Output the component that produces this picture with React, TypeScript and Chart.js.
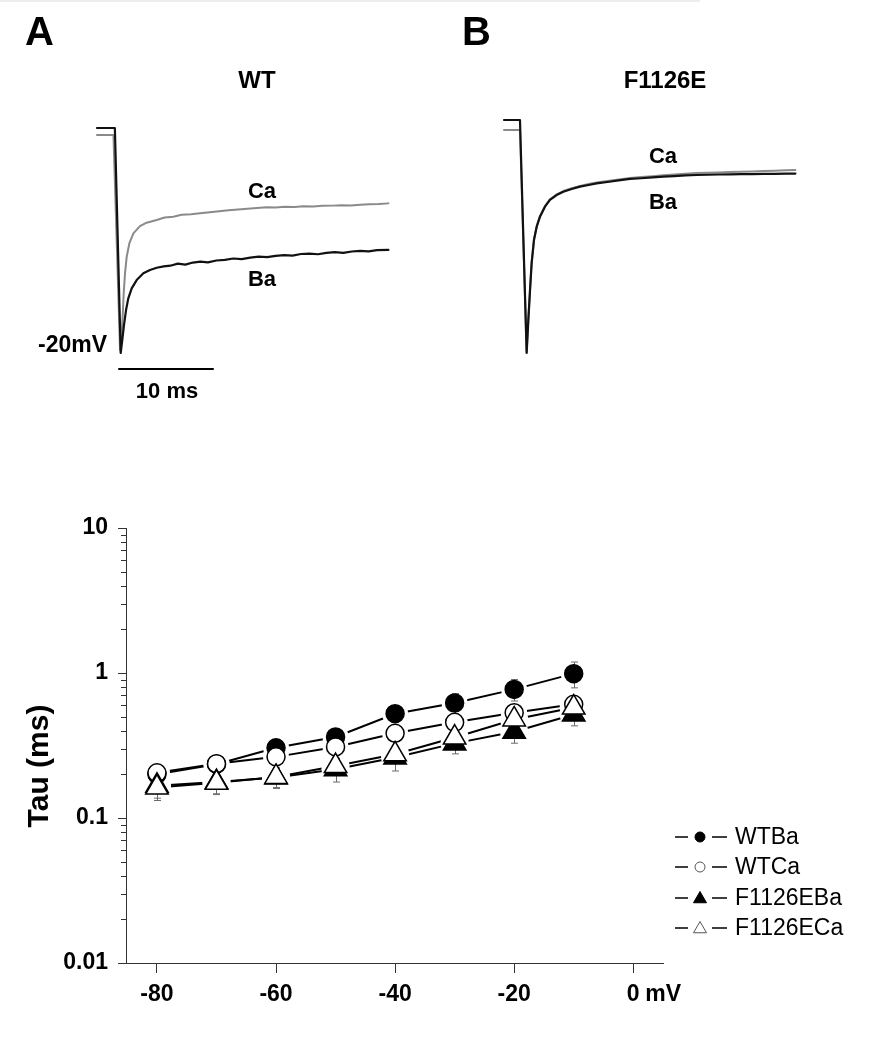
import React, { useEffect, useRef } from 'react';
import { Chart, registerables } from 'chart.js';

Chart.register(...registerables);

const FONT_FAMILY = '"Liberation Sans", Arial, Helvetica, sans-serif';

// ---------- Panel A (WT): normalized current traces at -20 mV ----------
const wtBaTime = [0, 1.9, 2.52, 2.69, 2.87, 3.09, 3.33, 3.69, 4.22, 4.93, 5.64, 6.35, 7.1, 7.8, 8.6, 9.4, 10.2, 11.0, 11.8, 12.7, 13.6, 14.5, 15.4, 16.3, 17.2, 18.1, 19.0, 19.9, 20.8, 21.7, 22.6, 23.5, 24.4, 25.3, 26.2, 27.1, 28.0, 28.9, 29.8, 31.0];
const wtBaCurrent = [0, 0, -1.0, -0.942, -0.876, -0.809, -0.757, -0.713, -0.676, -0.646, -0.631, -0.621, -0.615, -0.612, -0.603, -0.607, -0.598, -0.594, -0.597, -0.589, -0.586, -0.58, -0.583, -0.576, -0.572, -0.574, -0.568, -0.565, -0.567, -0.56, -0.558, -0.561, -0.555, -0.552, -0.555, -0.549, -0.546, -0.548, -0.543, -0.542];
const wtCaTime = [0, 1.75, 2.45, 2.62, 2.73, 2.84, 2.98, 3.16, 3.44, 3.87, 4.57, 5.28, 6.35, 7.2, 8.12, 9.0, 10.0, 10.96, 12.0, 13.0, 14.0, 15.0, 16.0, 17.0, 18.05, 19.0, 20.0, 21.0, 22.0, 23.0, 24.0, 25.1, 26.0, 27.0, 28.0, 29.0, 30.0, 31.0];
const wtCaCurrent = [-0.031, -0.031, -0.987, -0.913, -0.839, -0.735, -0.646, -0.572, -0.513, -0.468, -0.436, -0.421, -0.409, -0.398, -0.394, -0.386, -0.383, -0.379, -0.374, -0.37, -0.366, -0.362, -0.359, -0.356, -0.352, -0.353, -0.35, -0.351, -0.348, -0.349, -0.346, -0.345, -0.343, -0.344, -0.341, -0.339, -0.338, -0.335];
const scaleBarTime = [2.34, 12.34]; // 10 ms
const scaleBarLevel = -1.071;

// ---------- Panel B (F1126E) ----------
const mutTime = [0, 1.7, 2.41, 2.59, 2.77, 2.94, 3.19, 3.48, 3.83, 4.36, 4.89, 5.6, 6.31, 7.2, 8.09, 9.0, 9.86, 11.0, 12.2, 13.4, 14.6, 15.8, 16.95, 18.1, 19.3, 20.5, 21.7, 22.8, 24.0, 25.2, 26.4, 27.6, 28.8, 30.0, 31.0];
const mutBaCurrent = [0, 0, -1.0, -0.858, -0.73, -0.615, -0.515, -0.458, -0.415, -0.372, -0.343, -0.322, -0.308, -0.296, -0.286, -0.279, -0.272, -0.266, -0.259, -0.253, -0.25, -0.246, -0.243, -0.241, -0.238, -0.236, -0.235, -0.234, -0.233, -0.232, -0.232, -0.231, -0.231, -0.23, -0.23];
const mutCaCurrent = [-0.043, -0.043, -0.995, -0.855, -0.727, -0.612, -0.512, -0.455, -0.412, -0.369, -0.34, -0.319, -0.305, -0.293, -0.283, -0.275, -0.268, -0.262, -0.255, -0.249, -0.245, -0.241, -0.237, -0.234, -0.231, -0.228, -0.226, -0.225, -0.223, -0.222, -0.221, -0.219, -0.218, -0.216, -0.215];

// ---------- Panel C: Tau vs voltage ----------
const voltages = [-80, -70, -60, -50, -40, -30, -20, -10];
const tauWTBa = [0.2, 0.235, 0.305, 0.362, 0.524, 0.621, 0.771, 0.99];
const tauWTCa = [0.205, 0.237, 0.264, 0.309, 0.384, 0.457, 0.532, 0.608];
const tauF1126EBa = [0.167, 0.177, 0.19, 0.217, 0.261, 0.327, 0.393, 0.517];
const tauF1126ECa = [0.162, 0.175, 0.192, 0.228, 0.275, 0.359, 0.478, 0.578];
const errWTBa = [0.02, 0.02, 0.02, 0.025, 0.04, 0.1, 0.13, 0.2];
const errWTCa = [0.02, 0.02, 0.02, 0.02, 0.03, 0.04, 0.05, 0.06];
const errF1126EBa = [0.03, 0.03, 0.03, 0.04, 0.05, 0.05, 0.065, 0.085];
const errF1126ECa = [0.03, 0.03, 0.03, 0.03, 0.03, 0.04, 0.04, 0.05];
const seriesNames = ['WTBa', 'WTCa', 'F1126EBa', 'F1126ECa'];

const yMajorTicks = [0.01, 0.1, 1, 10];
const yTickLabels = ['0.01', '0.1', '1', '10'];
const yDecades = [0.01, 0.1, 1];
const yMinorMultipliers = [2, 3, 4, 5, 6, 7, 8, 9];
const xTicks = [-80, -60, -40, -20, 0];
const xTickLabels = ['-80', '-60', '-40', '-20', '0'];

// styles (separate from data)
const seriesStyles = [
  { style: 'circle', filled: true, radius: 9, halo: 13 },
  { style: 'circle', filled: false, radius: 9, halo: 13 },
  { style: 'triangle', filled: true, radius: 13, halo: 14 },
  { style: 'triangle', filled: false, radius: 13, halo: 14 },
];
const seriesTau = [tauWTBa, tauWTCa, tauF1126EBa, tauF1126ECa];
const seriesErr = [errWTBa, errWTCa, errF1126EBa, errF1126ECa];

const zip = (xs: number[], ys: number[]) => xs.map((x, i) => ({ x, y: ys[i] }));

type TextItem = { text: string; x: number; y: number; size: number; bold: boolean; align: CanvasTextAlign };

function textPlugin(items: TextItem[]) {
  return {
    id: 'panelText',
    afterDraw(chart: any) {
      const ctx = chart.ctx as CanvasRenderingContext2D;
      ctx.save();
      ctx.fillStyle = '#000';
      ctx.textBaseline = 'alphabetic';
      for (const t of items) {
        ctx.font = `${t.bold ? 'bold ' : ''}${t.size}px ${FONT_FAMILY}`;
        ctx.textAlign = t.align;
        ctx.fillText(t.text, t.x, t.y);
      }
      ctx.restore();
    },
  };
}

function traceConfig(opts: {
  ba: { x: number; y: number }[];
  ca: { x: number; y: number }[];
  bar?: { x: number; y: number }[];
  padding: { left: number; right: number; top: number; bottom: number };
  xMin: number; xMax: number; yMin: number; yMax: number;
  texts: TextItem[];
}): any {
  const datasets: any[] = [
    { data: opts.ca, borderColor: '#8a8a8a', borderWidth: 2, pointRadius: 0, order: 3 },
    { data: opts.ba, borderColor: '#111', borderWidth: 2.2, pointRadius: 0, order: 2 },
  ];
  if (opts.bar) datasets.push({ data: opts.bar, borderColor: '#000', borderWidth: 2, pointRadius: 0, order: 1 });
  return {
    type: 'line',
    data: { datasets },
    options: {
      animation: false,
      responsive: false,
      events: [],
      layout: { padding: opts.padding },
      plugins: { legend: { display: false }, tooltip: { enabled: false } },
      scales: {
        x: { type: 'linear', display: false, min: opts.xMin, max: opts.xMax },
        y: { type: 'linear', display: false, min: opts.yMin, max: opts.yMax },
      },
      elements: { line: { tension: 0, borderJoinStyle: 'round', borderCapStyle: 'round' } },
    },
    plugins: [textPlugin(opts.texts)],
  };
}

function tauConfig(): any {
  const lineSets = seriesTau.map((tau) => ({
    data: zip(voltages, tau), borderColor: '#000', borderWidth: 2, pointRadius: 0, showLine: true, order: 20,
  }));
  const haloSets = seriesTau.map((tau, i) => ({
    data: zip(voltages, tau), showLine: false, pointStyle: 'circle', pointRadius: seriesStyles[i].halo,
    pointBackgroundColor: '#fff', pointBorderColor: '#fff', pointBorderWidth: 0, order: 10,
  }));
  const markerSets = seriesTau.map((tau, i) => ({
    label: seriesNames[i],
    data: zip(voltages, tau), showLine: false, pointStyle: seriesStyles[i].style, pointRadius: seriesStyles[i].radius,
    pointBackgroundColor: seriesStyles[i].filled ? '#000' : '#fff', pointBorderColor: '#000', pointBorderWidth: 1.5,
    order: 3 - i, drawErrorsBefore: i === 0,
  }));

  const decorations = {
    id: 'tauDecorations',
    beforeDatasetDraw(chart: any, args: any) {
      const ds = chart.data.datasets[args.index];
      if (!ds.drawErrorsBefore) return;
      const ctx = chart.ctx as CanvasRenderingContext2D;
      const xs = chart.scales.x, ys = chart.scales.y;
      ctx.save();
      ctx.strokeStyle = '#6a6a6a';
      ctx.lineWidth = 1;
      seriesTau.forEach((tau, s) => {
        voltages.forEach((v, i) => {
          const px = Math.round(xs.getPixelForValue(v)) + 0.5;
          const top = ys.getPixelForValue(tau[i] + seriesErr[s][i]);
          const bot = ys.getPixelForValue(tau[i] - seriesErr[s][i]);
          ctx.beginPath();
          ctx.moveTo(px, top); ctx.lineTo(px, bot);
          ctx.moveTo(px - 3.5, top); ctx.lineTo(px + 3.5, top);
          ctx.moveTo(px - 3.5, bot); ctx.lineTo(px + 3.5, bot);
          ctx.stroke();
        });
      });
      ctx.restore();
    },
    afterDraw(chart: any) {
      const ctx = chart.ctx as CanvasRenderingContext2D;
      const xs = chart.scales.x, ys = chart.scales.y;
      const left = chart.chartArea.left;
      ctx.save();
      // minor log ticks
      ctx.strokeStyle = '#333';
      ctx.lineWidth = 1;
      ctx.beginPath();
      yDecades.forEach((d) => yMinorMultipliers.forEach((m) => {
        const py = Math.round(ys.getPixelForValue(d * m)) + 0.5;
        ctx.moveTo(left - 5, py); ctx.lineTo(left, py);
      }));
      ctx.stroke();
      // unit after 0 tick
      ctx.fillStyle = '#000';
      ctx.font = `bold 23px ${FONT_FAMILY}`;
      ctx.textAlign = 'left';
      ctx.textBaseline = 'middle';
      ctx.fillText('mV', xs.getPixelForValue(0) + 12, xs.top + 10 + 8 + 13.8);
      // y title
      ctx.save();
      ctx.translate(40, 296);
      ctx.rotate(-Math.PI / 2);
      ctx.font = `bold 30px ${FONT_FAMILY}`;
      ctx.textAlign = 'center';
      ctx.textBaseline = 'middle';
      ctx.fillText('Tau (ms)', 0, 0);
      ctx.restore();
      // legend
      const rowY = [367, 397, 428, 458];
      ctx.font = `23px ${FONT_FAMILY}`;
      ctx.textAlign = 'left';
      ctx.textBaseline = 'middle';
      seriesNames.forEach((name, i) => {
        const y = rowY[i];
        ctx.strokeStyle = '#000';
        ctx.lineWidth = 1.5;
        ctx.beginPath();
        ctx.moveTo(675, y); ctx.lineTo(688, y);
        ctx.moveTo(712, y); ctx.lineTo(727, y);
        ctx.stroke();
        const st = seriesStyles[i];
        ctx.beginPath();
        if (st.style === 'circle') {
          ctx.arc(700, y, 5, 0, Math.PI * 2);
        } else {
          const r = 7.5;
          const cy = y + 1;
          ctx.moveTo(700, cy - r);
          ctx.lineTo(700 + r * 0.866, cy + r / 2);
          ctx.lineTo(700 - r * 0.866, cy + r / 2);
          ctx.closePath();
        }
        ctx.fillStyle = st.filled ? '#000' : '#fff';
        ctx.fill();
        ctx.lineWidth = 1;
        ctx.strokeStyle = st.filled ? '#000' : '#555';
        ctx.stroke();
        ctx.fillStyle = '#000';
        ctx.fillText(name, 735, y + 1);
      });
      ctx.restore();
    },
  };

  const tickFont = { family: FONT_FAMILY, size: 23, weight: 'bold' as const };
  return {
    type: 'line',
    data: { datasets: [...lineSets, ...haloSets, ...markerSets] },
    options: {
      animation: false,
      responsive: false,
      events: [],
      layout: { padding: { left: 0, right: 209, top: 58, bottom: 0 } },
      plugins: { legend: { display: false }, tooltip: { enabled: false } },
      scales: {
        x: {
          type: 'linear', min: -85.2, max: 5,
          afterBuildTicks: (s: any) => { s.ticks = xTicks.map((v) => ({ value: v })); },
          afterFit: (s: any) => { s.height = 87; },
          grid: { display: true, drawOnChartArea: false, drawTicks: true, tickLength: 10, color: '#333', lineWidth: 1 },
          border: { display: true, color: '#333', width: 1 },
          ticks: { callback: (_v: any, i: number) => xTickLabels[i], font: tickFont, color: '#000', padding: 8, maxRotation: 0, autoSkip: false },
        },
        y: {
          type: 'logarithmic', min: 0.01, max: 10,
          afterBuildTicks: (s: any) => { s.ticks = yMajorTicks.map((v) => ({ value: v })); },
          afterFit: (s: any) => { s.width = 126; },
          grid: { display: true, drawOnChartArea: false, drawTicks: true, tickLength: 8, color: '#333', lineWidth: 1 },
          border: { display: true, color: '#333', width: 1 },
          ticks: { callback: (_v: any, i: number) => yTickLabels[i], font: tickFont, color: '#000', padding: 10, autoSkip: false },
        },
      },
    },
    plugins: [decorations],
  };
}

export default function App() {
  const refA = useRef<HTMLCanvasElement>(null);
  const refB = useRef<HTMLCanvasElement>(null);
  const refC = useRef<HTMLCanvasElement>(null);

  useEffect(() => {
    const a = new Chart(refA.current!, traceConfig({
      ba: zip(wtBaTime, wtBaCurrent),
      ca: zip(wtCaTime, wtCaCurrent),
      bar: zip(scaleBarTime, [scaleBarLevel, scaleBarLevel]),
      padding: { left: 90, right: 36, top: 110, bottom: 40 },
      xMin: -0.745, xMax: 32.234, yMin: -1.12, yMax: 0.08,
      texts: [
        { text: 'A', x: 25, y: 45, size: 40, bold: true, align: 'left' },
        { text: 'WT', x: 257, y: 88, size: 24, bold: true, align: 'center' },
        { text: 'Ca', x: 262, y: 198, size: 22, bold: true, align: 'center' },
        { text: 'Ba', x: 262, y: 286, size: 22, bold: true, align: 'center' },
        { text: '-20mV', x: 107, y: 352, size: 23, bold: true, align: 'right' },
        { text: '10 ms', x: 167, y: 398, size: 22, bold: true, align: 'center' },
      ],
    }));
    const b = new Chart(refB.current!, traceConfig({
      ba: zip(mutTime, mutBaCurrent),
      ca: zip(mutTime, mutCaCurrent),
      padding: { left: 64, right: 62, top: 110, bottom: 40 },
      xMin: -0.4255, xMax: 32.553, yMin: -1.1159, yMax: 0.0429,
      texts: [
        { text: 'B', x: 26, y: 45, size: 40, bold: true, align: 'left' },
        { text: 'F1126E', x: 229, y: 88, size: 24, bold: true, align: 'center' },
        { text: 'Ca', x: 227, y: 163, size: 22, bold: true, align: 'center' },
        { text: 'Ba', x: 227, y: 209, size: 22, bold: true, align: 'center' },
      ],
    }));
    const c = new Chart(refC.current!, tauConfig());
    return () => { a.destroy(); b.destroy(); c.destroy(); };
  }, []);

  return (
    <div style={{ position: 'absolute', left: 0, top: 0, width: 872, height: 1050, background: '#fff', overflow: 'hidden' }}>
      <div style={{ position: 'absolute', left: 0, top: 0, width: 700, height: 2, background: '#ededed' }} />
      <canvas ref={refA} width={436} height={420} style={{ position: 'absolute', left: 0, top: 0 }} />
      <canvas ref={refB} width={436} height={420} style={{ position: 'absolute', left: 436, top: 0 }} />
      <canvas ref={refC} width={872} height={580} style={{ position: 'absolute', left: 0, top: 470 }} />
    </div>
  );
}
